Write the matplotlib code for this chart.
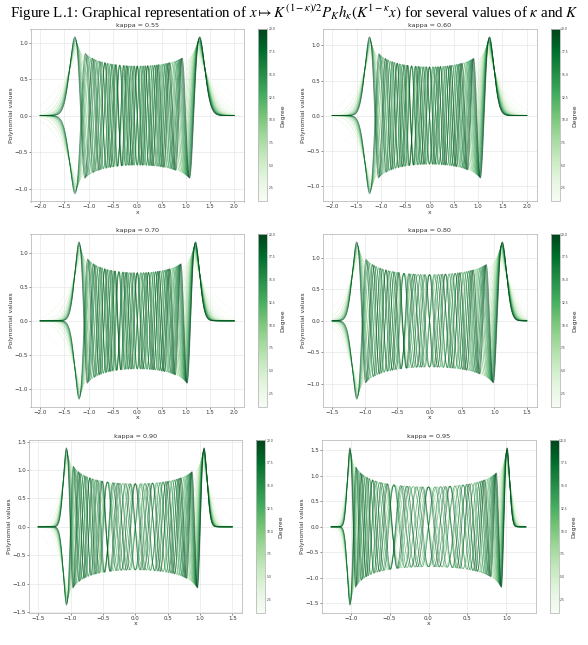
import numpy as np
import matplotlib
matplotlib.use('Agg')
import matplotlib.pyplot as plt
from matplotlib import colors

# %%
kappas = [0.55, 0.60, 0.70, 0.80, 0.90, 0.95]
x_max = [2.0, 2.0, 2.0, 1.5, 1.5, 1.25]
degrees = list(range(1, 21))
# weight exponent and horizontal stretch for each panel
alphas = [2.05, 2.3, 2.55, 3.3, 5.2, 8.5]
stretch = [0.98, 1.0, 1.02, 1.04, 1.07, 1.05]

W, H = 588, 645
DPI = 40
plt.rcParams['mathtext.fontset'] = 'stix'
plt.rcParams['font.family'] = 'DejaVu Sans'

# axes boxes in pixels: left, right, top, bottom
boxes = [(30.5, 244, 29, 201.5), (322.5, 536.5, 29, 201.5),
         (30.5, 244, 234, 407), (322.5, 536.5, 234, 407),
         (28.5, 242, 440, 613), (321.5, 535.5, 440, 613)]


# %%
def recurrence(alpha, nmax):
    # three-term recurrence of orthonormal polynomials for w(t) = exp(-|t|^alpha)
    a = (nmax / 0.4) ** (1 / alpha)
    L = 1.5 * a + 1.0
    t = np.linspace(-L, L, 400001)
    wt = np.exp(-np.abs(t) ** alpha) * (t[1] - t[0])
    mu0 = wt.sum()
    b = [0.0]
    p_prev = np.zeros_like(t)
    p = np.ones_like(t) / np.sqrt(mu0)
    for n in range(nmax):
        q = t * p - b[n] * p_prev
        b.append(np.sqrt(np.sum(q * q * wt)))
        p_prev, p = p, q / b[-1]
    return b, mu0


def curve(K, alpha, c, x, b, mu0):
    s = K ** (1 / alpha) / c
    t = s * x
    p_prev = np.zeros_like(t)
    p = np.ones_like(t) / np.sqrt(mu0)
    for n in range(K):
        q = (t * p - b[n] * p_prev) / b[n + 1]
        p_prev, p = p, q
    return np.sqrt(s) * p * np.exp(-np.abs(t) ** alpha / 2)


# %%
fig = plt.figure(figsize=(W / DPI, H / DPI), dpi=DPI)
cmap = plt.get_cmap('Greens')
norm = colors.Normalize(vmin=min(degrees), vmax=max(degrees))

for kappa, xm, alpha, c, (x0, x1, yt, yb) in zip(kappas, x_max, alphas, stretch, boxes):
    ax = fig.add_axes([x0 / W, 1 - yb / H, (x1 - x0) / W, (yb - yt) / H])
    b, mu0 = recurrence(alpha, max(degrees))
    x = np.linspace(-xm, xm, 3000)
    for K in degrees:
        ax.plot(x, curve(K, alpha, c, x, b, mu0), color=cmap(norm(K)), lw=1.4, alpha=0.6)

    ax.set_title(f'kappa = {kappa:.2f}', fontsize=11.5, color='#333333', pad=3)
    ax.set_xlabel('x', fontsize=11, color='#333333', labelpad=1)
    ax.set_ylabel('Polynomial values', fontsize=11, color='#333333', labelpad=2)
    ax.tick_params(labelsize=10, colors='#333333', length=3, width=1, pad=1.5)
    ax.grid(True, color='#e6e6e6', lw=1.2)
    ax.set_axisbelow(True)
    for sp in ax.spines.values():
        sp.set_color('#bbbbbb')
        sp.set_linewidth(1.5)

    cax = fig.add_axes([(x1 + 14) / W, 1 - yb / H, 9 / W, (yb - yt) / H])
    sm = plt.cm.ScalarMappable(cmap=cmap, norm=norm)
    cb = fig.colorbar(sm, cax=cax)
    cb.set_label('Degree', fontsize=11, color='#333333', labelpad=8)
    cb.ax.tick_params(labelsize=5.5, colors='#333333', length=2, width=0.8, pad=1)
    cb.outline.set_edgecolor('#bbbbbb')
    cb.outline.set_linewidth(1.5)

fig.text(0.5, 0.996,
         r'Figure L.1: Graphical representation of $x \mapsto K^{(1-\kappa)/2} P_K h_\kappa(K^{1-\kappa}x)$'
         r' for several values of $\kappa$ and $K$',
         ha='center', va='top', fontsize=27, family='Liberation Serif')

fig.savefig('out.png', dpi=DPI)
